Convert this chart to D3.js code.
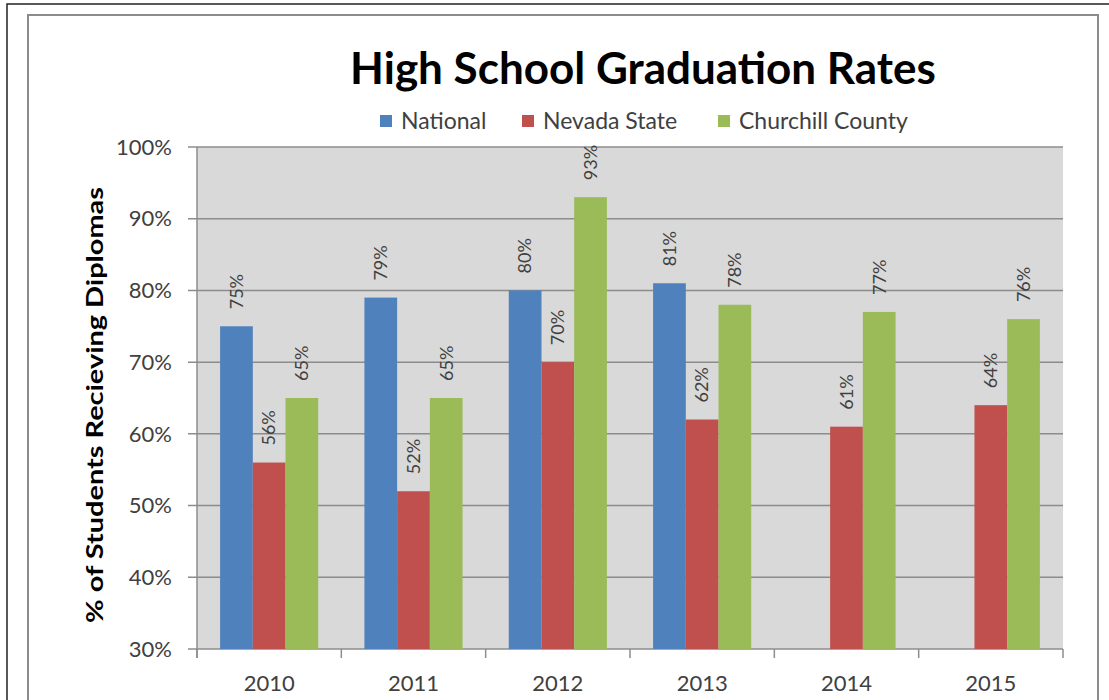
<!DOCTYPE html>
<html>
<head>
<meta charset="utf-8">
<script src="https://cdn.jsdelivr.net/npm/d3@7"></script>
<style>
  body { margin: 0; background: #fff; }
  svg { display: block; }
</style>
</head>
<body>
<div id="chart"></div>
<script>
const years = ["2010", "2011", "2012", "2013", "2014", "2015"];
const seriesNames = ["National", "Nevada State", "Churchill County"];
const national = [75, 79, 80, 81, null, null];
const nevada = [56, 52, 70, 62, 61, 64];
const churchill = [65, 65, 93, 78, 77, 76];
const yTicks = [30, 40, 50, 60, 70, 80, 90, 100];
const colors = ["#4F81BD", "#C0504D", "#9BBB59"];

const allSeries = [national, nevada, churchill];
const width = 1109, height = 700;
const plot = { left: 197, right: 1063, top: 147, bottom: 649 };
const font = "Lato, 'Open Sans', sans-serif";

const svg = d3.select("#chart").append("svg")
    .attr("width", width)
    .attr("height", height);

// frames
svg.append("rect").attr("x", 7).attr("y", 4).attr("width", 1110).attr("height", 710)
    .attr("fill", "none").attr("stroke", "#222").attr("stroke-width", 1.5);
svg.append("rect").attr("x", 28).attr("y", 15).attr("width", 1070).attr("height", 700)
    .attr("fill", "none").attr("stroke", "#8c8c8c").attr("stroke-width", 2);

const x0 = d3.scaleBand().domain(years).range([plot.left, plot.right]).paddingInner(0.32).paddingOuter(0.16);
const x1 = d3.scaleBand().domain(d3.range(3)).range([0, x0.bandwidth()]);
const y = d3.scaleLinear().domain([30, 100]).range([plot.bottom, plot.top]);

svg.append("rect")
    .attr("x", plot.left).attr("y", plot.top)
    .attr("width", plot.right - plot.left).attr("height", plot.bottom - plot.top)
    .attr("fill", "#D9D9D9");

// gridlines
svg.append("g").selectAll("line").data(yTicks).enter().append("line")
    .attr("x1", plot.left - 9).attr("x2", plot.right)
    .attr("y1", d => y(d)).attr("y2", d => y(d))
    .attr("stroke", "#8c8c8c").attr("stroke-width", 1.5);

// y axis line
svg.append("line").attr("x1", plot.left).attr("x2", plot.left)
    .attr("y1", plot.top).attr("y2", plot.bottom + 9)
    .attr("stroke", "#8c8c8c").attr("stroke-width", 1.5);

// x axis category ticks
const bounds = years.map(d => x0(d) - x0.step() * x0.paddingInner() / 2).concat([plot.right]);
svg.append("g").selectAll("line").data(bounds).enter().append("line")
    .attr("x1", d => d).attr("x2", d => d)
    .attr("y1", plot.bottom).attr("y2", plot.bottom + 9)
    .attr("stroke", "#8c8c8c").attr("stroke-width", 1.5);

// y tick labels
svg.append("g").selectAll("text").data(yTicks).enter().append("text")
    .attr("x", 172).attr("y", d => y(d)).attr("dy", "0.35em")
    .attr("text-anchor", "end")
    .style("font-family", font).style("font-size", "22px").style("fill", "#404040")
    .text(d => d + "%");

// x tick labels
svg.append("g").selectAll("text").data(years).enter().append("text")
    .attr("x", d => x0(d) + x0.bandwidth() / 2).attr("y", 691)
    .attr("text-anchor", "middle")
    .style("font-family", font).style("font-size", "22px").style("fill", "#404040")
    .text(d => d);

// bars
const barData = [];
years.forEach((yr, i) => {
    allSeries.forEach((s, j) => {
        if (s[i] != null) barData.push({ yr: yr, j: j, v: s[i] });
    });
});

svg.append("g").selectAll("rect").data(barData).enter().append("rect")
    .attr("x", d => x0(d.yr) + x1(d.j))
    .attr("y", d => y(d.v))
    .attr("width", x1.bandwidth())
    .attr("height", d => plot.bottom - y(d.v))
    .attr("fill", d => colors[d.j]);

svg.append("g").selectAll("text").data(barData).enter().append("text")
    .attr("transform", d => `translate(${x0(d.yr) + x1(d.j) + x1.bandwidth() / 2},${y(d.v) - 17}) rotate(-90)`)
    .attr("dy", "0.35em")
    .attr("text-anchor", "start")
    .style("font-family", font).style("font-size", "18px").style("fill", "#404040")
    .text(d => d.v + "%");

// title
svg.append("text")
    .attr("x", 643).attr("y", 84)
    .attr("text-anchor", "middle")
    .style("font-family", font).style("font-size", "44px").style("font-weight", "bold").style("fill", "#000")
    .text("High School Graduation Rates");

// legend
const legendX = [380, 522, 718];
const legend = svg.append("g").selectAll("g").data(seriesNames).enter().append("g")
    .attr("transform", (d, i) => `translate(${legendX[i]},121)`);
legend.append("rect").attr("x", 0).attr("y", -6).attr("width", 12).attr("height", 12)
    .attr("fill", (d, i) => colors[i]);
legend.append("text").attr("x", 21).attr("y", 0).attr("dy", "0.35em")
    .style("font-family", font).style("font-size", "23px").style("fill", "#404040")
    .text(d => d);

// y axis title
svg.append("text")
    .attr("transform", "translate(95,405) rotate(-90)")
    .attr("dy", "0.35em")
    .attr("text-anchor", "middle")
    .attr("textLength", 436).attr("lengthAdjust", "spacingAndGlyphs")
    .style("font-family", font).style("font-size", "22px").style("font-weight", "bold").style("fill", "#000")
    .text("% of Students Recieving Diplomas");
</script>
</body>
</html>
